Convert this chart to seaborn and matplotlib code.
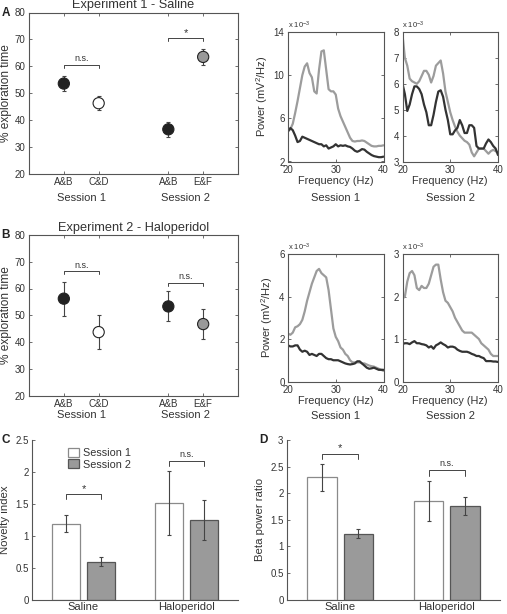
import numpy as np
import pandas as pd
import matplotlib
matplotlib.use("Agg")
import matplotlib.pyplot as plt
import seaborn as sns

# ============================================================
# Data
# ============================================================
# Panels A/B left: % exploration time (mean +/- sem)
obj_labels = ["A&B", "C&D", "A&B", "E&F"]
obj_pos    = [1, 2, 4, 5]
obj_colors = ["#222222", "white", "#222222", "#999999"]
exp1_mean  = [53.6, 46.3, 36.6, 63.5]
exp1_sem   = [2.8, 2.7, 2.8, 3.0]
exp2_mean  = [56.2, 43.7, 53.3, 46.7]
exp2_sem   = [6.4, 6.5, 5.6, 5.6]

# Power spectra (x 10^-3 mV^2/Hz), 0.5 Hz bins from 20 to 40 Hz
freqs = [20, 20.5, 21, 21.5, 22, 22.5, 23, 23.5, 24, 24.5, 25, 25.5, 26, 26.5,
         27, 27.5, 28, 28.5, 29, 29.5, 30, 30.5, 31, 31.5, 32, 32.5, 33, 33.5,
         34, 34.5, 35, 35.5, 36, 36.5, 37, 37.5, 38, 38.5, 39, 39.5, 40]

exp1_s1_novel = [4.8, 5.0, 5.5, 6.5, 7.6, 8.8, 10.0, 10.8, 11.1, 10.2, 9.8, 8.5,
                 8.3, 10.5, 12.2, 12.3, 10.5, 8.7, 8.5, 8.5, 8.2, 6.9, 6.2, 5.7,
                 5.2, 4.7, 4.2, 3.9, 3.85, 3.9, 3.9, 3.95, 3.9, 3.75, 3.6, 3.45,
                 3.4, 3.4, 3.45, 3.45, 3.5]
exp1_s1_fam   = [4.8, 5.1, 4.9, 4.4, 3.8, 3.9, 4.3, 4.2, 4.1, 4.0, 3.9, 3.8,
                 3.7, 3.6, 3.6, 3.4, 3.5, 3.2, 3.3, 3.4, 3.6, 3.4, 3.5, 3.45,
                 3.5, 3.4, 3.35, 3.2, 3.0, 2.9, 3.0, 3.15, 3.1, 2.9, 2.75, 2.6,
                 2.5, 2.45, 2.4, 2.4, 2.45]
exp1_s2_novel = [7.9, 7.0, 6.7, 6.2, 6.1, 6.05, 6.0, 6.1, 6.3, 6.5, 6.5, 6.35,
                 6.05, 6.3, 6.7, 6.8, 6.9, 6.4, 5.7, 5.3, 4.9, 4.6, 4.35, 4.15,
                 4.0, 3.9, 3.8, 3.75, 3.65, 3.35, 3.2, 3.35, 3.5, 3.5, 3.5, 3.4,
                 3.3, 3.4, 3.45, 3.4, 3.35]
exp1_s2_fam   = [6.0, 5.6, 4.95, 5.2, 5.6, 5.9, 5.9, 5.8, 5.6, 5.2, 4.9, 4.4,
                 4.4, 4.8, 5.3, 5.7, 5.75, 5.5, 5.0, 4.6, 4.05, 4.05, 4.2, 4.3,
                 4.6, 4.4, 4.1, 4.1, 4.4, 4.4, 4.3, 3.6, 3.5, 3.5, 3.5, 3.7,
                 3.85, 3.75, 3.6, 3.5, 3.25]
exp2_s1_novel = [2.25, 2.2, 2.3, 2.55, 2.6, 2.7, 2.9, 3.3, 3.8, 4.2, 4.6, 4.9,
                 5.2, 5.3, 5.1, 5.0, 4.9, 4.3, 3.4, 2.5, 2.1, 1.9, 1.6, 1.5,
                 1.3, 1.2, 1.0, 0.9, 0.9, 0.9, 0.9, 0.85, 0.85, 0.8, 0.75, 0.72,
                 0.7, 0.65, 0.6, 0.55, 0.5]
exp2_s1_fam   = [1.7, 1.65, 1.65, 1.7, 1.7, 1.5, 1.4, 1.45, 1.4, 1.25, 1.3, 1.25,
                 1.2, 1.3, 1.3, 1.2, 1.1, 1.05, 1.05, 1.0, 1.0, 1.0, 0.95, 0.9,
                 0.85, 0.82, 0.8, 0.82, 0.85, 0.95, 0.95, 0.85, 0.75, 0.65, 0.6, 0.62,
                 0.65, 0.6, 0.55, 0.55, 0.55]
exp2_s2_novel = [1.95, 2.0, 2.35, 2.55, 2.6, 2.5, 2.2, 2.15, 2.25, 2.2, 2.2, 2.3,
                 2.5, 2.7, 2.75, 2.75, 2.4, 2.1, 1.9, 1.85, 1.75, 1.65, 1.5, 1.4,
                 1.3, 1.2, 1.15, 1.15, 1.15, 1.15, 1.1, 1.05, 1.0, 0.9, 0.85, 0.8,
                 0.75, 0.65, 0.6, 0.6, 0.6]
exp2_s2_fam   = [0.88, 0.9, 0.9, 0.88, 0.92, 0.95, 0.9, 0.9, 0.88, 0.87, 0.85, 0.8,
                 0.83, 0.77, 0.85, 0.88, 0.92, 0.88, 0.85, 0.8, 0.82, 0.82, 0.8, 0.75,
                 0.72, 0.7, 0.7, 0.7, 0.68, 0.65, 0.63, 0.6, 0.6, 0.57, 0.55, 0.48,
                 0.48, 0.48, 0.47, 0.47, 0.46]

# Panels C/D: bar summaries
groups    = ["Saline", "Haloperidol"]
sessions  = ["Session 1", "Session 2"]
nov_s1    = [1.19, 1.51]
nov_s2    = [0.59, 1.25]
nov_s1_er = [0.135, 0.50]
nov_s2_er = [0.07, 0.31]
beta_s1    = [2.30, 1.86]
beta_s2    = [1.24, 1.75]
beta_s1_er = [0.25, 0.375]
beta_s2_er = [0.09, 0.17]

# ============================================================
# Style
# ============================================================
sns.set_style("ticks")
plt.rcParams["font.family"] = ["Liberation Sans", "DejaVu Sans"]
plt.rcParams["mathtext.default"] = "regular"
plt.rcParams["font.size"] = 7

TXT = "#333333"
SPINE = "#555555"
DARK = "#333333"
GREY = "#9c9c9c"

W, H = 507, 614
fig = plt.figure(figsize=(W / 100, H / 100), dpi=100)


def px_axes(left, top, right, bottom):
    return fig.add_axes([left / W, 1 - bottom / H, (right - left) / W, (bottom - top) / H])


def fig_y(y):
    return 1 - y / H


def style_box(ax):
    for s in ax.spines.values():
        s.set_color(SPINE)
        s.set_linewidth(0.8)
    ax.tick_params(direction="in", length=2.5, width=0.6, color=SPINE,
                   labelcolor=TXT, labelsize=7, top=True, right=True, pad=2.5)


def bracket(ax, x0, x1, y, drop, label, dy, fs=6.5):
    ax.plot([x0, x0, x1, x1], [y - drop, y, y, y - drop], color="#444444", lw=0.7)
    ax.text((x0 + x1) / 2, y + dy, label, ha="center", va="bottom", fontsize=fs, color=TXT)


def exploration_panel(ax, means, sems, title, brackets, sess_y):
    df = pd.DataFrame({"pos": obj_pos, "mean": means, "obj": range(4)})
    ax.errorbar(obj_pos, means, yerr=sems, fmt="none", ecolor="#444444",
                elinewidth=0.8, capsize=1.5, capthick=0.8, zorder=2)
    sns.scatterplot(data=df, x="pos", y="mean", hue="obj",
                    palette=dict(zip(range(4), obj_colors)), s=65,
                    edgecolor="#222222", linewidth=0.8, legend=False, ax=ax, zorder=3)
    ax.set_xlim(0, 6)
    ax.set_ylim(20, 80)
    ax.set_yticks(range(20, 81, 10))
    ax.set_xticks(obj_pos)
    ax.set_xticklabels(obj_labels)
    ax.set_xlabel("")
    ax.set_ylabel("% exploration time", fontsize=8.6, color=TXT, labelpad=2)
    ax.set_title(title, fontsize=9.2, color=TXT, pad=3)
    style_box(ax)
    for (x0, x1, y, lab) in brackets:
        fs = 8 if lab == "*" else 6.5
        dy = 0.2 if lab == "*" else 0.6
        bracket(ax, x0, x1, y, 1.0, lab, dy, fs)
    blend = matplotlib.transforms.blended_transform_factory(ax.transData, fig.transFigure)
    ax.text(1.5, fig_y(sess_y), "Session 1", transform=blend,
            ha="center", va="center", fontsize=8, color=TXT)
    ax.text(4.5, fig_y(sess_y), "Session 2", transform=blend,
            ha="center", va="center", fontsize=8, color=TXT)


def psd_panel(ax, fam, nov, ylim, yticks, ylabel, session, sess_y):
    df = pd.DataFrame({"f": freqs + freqs, "p": nov + fam,
                       "kind": ["novel"] * len(freqs) + ["familiar"] * len(freqs)})
    sns.lineplot(data=df, x="f", y="p", hue="kind",
                 palette={"novel": GREY, "familiar": DARK}, linewidth=1.6,
                 legend=False, ax=ax)
    ax.set_xlim(20, 40)
    ax.set_ylim(*ylim)
    ax.set_xticks([20, 30, 40])
    ax.set_yticks(yticks)
    style_box(ax)
    ax.set_xlabel("Frequency (Hz)", fontsize=7.8, color=TXT, labelpad=1)
    ax.set_ylabel("Power (mV$^2$/Hz)" if ylabel else "", fontsize=8, color=TXT, labelpad=3)
    ax.text(0.0, 1.01, "x 10$^{-3}$", transform=ax.transAxes, ha="left",
            va="bottom", fontsize=5.5, color=TXT)
    blend = matplotlib.transforms.blended_transform_factory(ax.transAxes, fig.transFigure)
    ax.text(0.5, fig_y(sess_y), session, transform=blend, ha="center",
            va="center", fontsize=8, color=TXT)


def bar_panel(ax, s1, s2, e1, e2, ylim, ylabel, brackets, legend):
    df = pd.DataFrame({"group": groups * 2,
                       "session": [sessions[0]] * 2 + [sessions[1]] * 2,
                       "val": s1 + s2})
    sns.barplot(data=df, x="group", y="val", hue="session", order=groups,
                hue_order=sessions, palette={sessions[0]: "white", sessions[1]: "#9a9a9a"},
                width=0.68, gap=0.18, errorbar=None, linewidth=0.9,
                edgecolor="#555555", legend=legend, ax=ax)
    bar_conts = list(ax.containers)
    centers = [[b.get_x() + b.get_width() / 2 for b in c] for c in bar_conts]
    edges = ["#8a8a8a", "#555555"]
    for cont, errs, ec in zip(bar_conts, [e1, e2], edges):
        for bar, err in zip(cont, errs):
            bar.set_edgecolor(ec)
            cx = bar.get_x() + bar.get_width() / 2
            ax.errorbar(cx, bar.get_height(), yerr=err, fmt="none",
                        ecolor="#444444", elinewidth=0.8, capsize=1.5, capthick=0.8)
    ax.set_xlim(-0.5, 1.5)
    ax.set_ylim(*ylim)
    sns.despine(ax=ax)
    for s in ["left", "bottom"]:
        ax.spines[s].set_color(SPINE)
        ax.spines[s].set_linewidth(0.8)
    ax.tick_params(direction="in", length=2.5, width=0.6, color=SPINE,
                   labelcolor=TXT, labelsize=7, pad=2.5)
    ax.tick_params(axis="x", length=0, labelsize=8, pad=2)
    ax.set_xlabel("")
    ax.set_ylabel(ylabel, fontsize=8.2, color=TXT, labelpad=4)
    for gi, (y, drop, lab) in enumerate(brackets):
        fs = 8 if lab == "*" else 6.5
        bracket(ax, centers[0][gi], centers[1][gi], y, drop, lab,
                drop * (0.1 if lab == "*" else 0.5), fs)
    if legend:
        leg = ax.legend(loc="upper left", bbox_to_anchor=(0.15, 0.985), frameon=False,
                        fontsize=7.8, handlelength=1.0, handleheight=0.9,
                        handletextpad=0.4, labelspacing=0.12, borderpad=0)
        for t in leg.get_texts():
            t.set_color(TXT)
        for h, ec in zip(leg.legend_handles, edges):
            h.set_edgecolor(ec)


# ============================================================
# Panel A
# ============================================================
axA = px_axes(29, 12.5, 238, 174)
exploration_panel(axA, exp1_mean, exp1_sem, "Experiment 1 - Saline",
                  [(1, 2, 60.5, "n.s."), (4, 5, 70.4, "*")], 198)
axA1 = px_axes(288, 32, 383.5, 161.5)
psd_panel(axA1, exp1_s1_fam, exp1_s1_novel, (2, 14), [2, 6, 10, 14], True, "Session 1", 198)
axA2 = px_axes(402.5, 32, 498, 161.5)
psd_panel(axA2, exp1_s2_fam, exp1_s2_novel, (3, 8), [3, 4, 5, 6, 7, 8], False, "Session 2", 198)

# ============================================================
# Panel B
# ============================================================
axB = px_axes(29, 235, 238, 395.5)
exploration_panel(axB, exp2_mean, exp2_sem, "Experiment 2 - Haloperidol",
                  [(1, 2, 66.4, "n.s."), (4, 5, 62.1, "n.s.")], 415)
axB1 = px_axes(288, 254, 383.5, 381.5)
psd_panel(axB1, exp2_s1_fam, exp2_s1_novel, (0, 6), [0, 2, 4, 6], True, "Session 1", 416)
axB2 = px_axes(402.5, 254, 498, 381.5)
psd_panel(axB2, exp2_s2_fam, exp2_s2_novel, (0, 3), [0, 1, 2, 3], False, "Session 2", 416)

# ============================================================
# Panels C / D
# ============================================================
axC = px_axes(32, 440, 238, 599.5)
bar_panel(axC, nov_s1, nov_s2, nov_s1_er, nov_s2_er, (0, 2.5), "Novelty index",
          [(1.65, 0.08, "*"), (2.17, 0.07, "n.s.")], True)
axC.set_yticks([0, 0.5, 1, 1.5, 2, 2.5])
axC.set_yticklabels(["0", "0.5", "1", "1.5", "2", "2.5"])

axD = px_axes(287, 440, 500, 599.5)
bar_panel(axD, beta_s1, beta_s2, beta_s1_er, beta_s2_er, (0, 3), "Beta power ratio",
          [(2.74, 0.1, "*"), (2.43, 0.1, "n.s.")], False)
axD.set_yticks([0, 0.5, 1, 1.5, 2, 2.5, 3])
axD.set_yticklabels(["0", "0.5", "1", "1.5", "2", "2.5", "3"])

# Panel letters
for lab, x, y in [("A", 1.5, 13), ("B", 1.5, 235), ("C", 2, 440), ("D", 259, 440)]:
    fig.text(x / W, fig_y(y), lab, fontsize=8.5, fontweight="bold", color="#222222",
             ha="left", va="center")

fig.savefig("out.png", dpi=100)
